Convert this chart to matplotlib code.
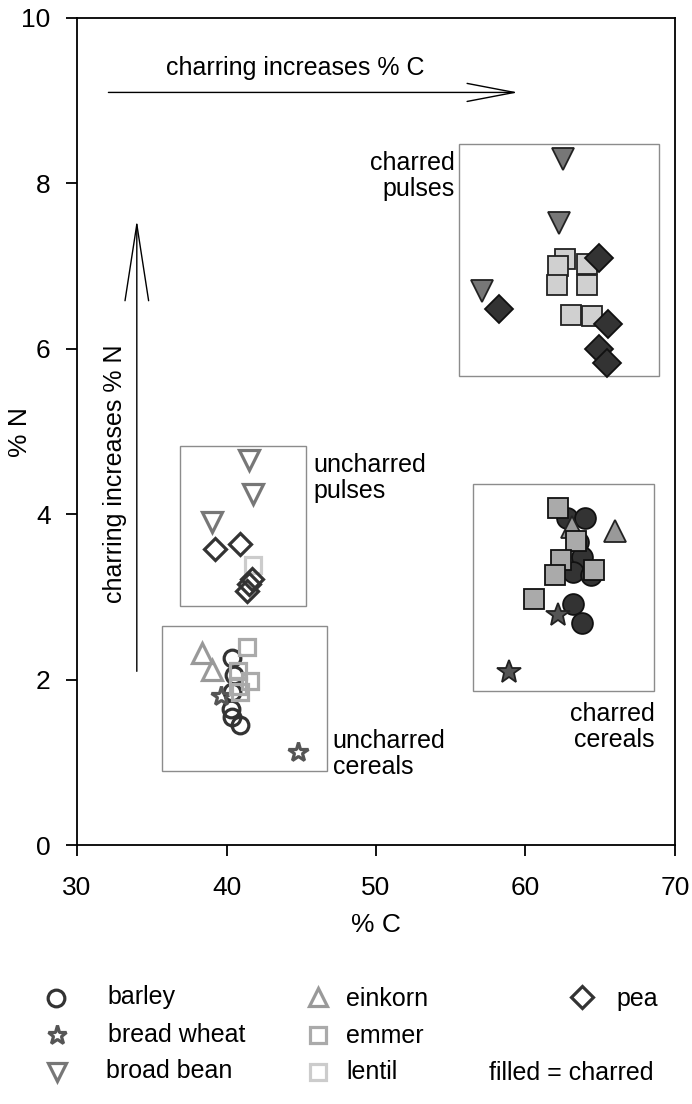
import numpy as np
import matplotlib.pyplot as plt
from matplotlib.patches import Rectangle

plt.rcParams['font.family'] = ['Liberation Sans', 'DejaVu Sans']

# uncharred (open symbols)
barley_u_x = [40.4, 40.5, 40.4, 40.3, 40.35, 40.9]
barley_u_y = [2.26, 2.05, 1.85, 1.65, 1.55, 1.45]
wheat_u_x = [39.6, 44.8]
wheat_u_y = [1.80, 1.13]
bean_u_x = [41.5, 41.8, 39.0]
bean_u_y = [4.65, 4.25, 3.90]
einkorn_u_x = [38.35, 39.0]
einkorn_u_y = [2.32, 2.12]
emmer_u_x = [41.35, 40.8, 41.6, 40.8, 40.9]
emmer_u_y = [2.40, 2.10, 1.98, 1.92, 1.85]
lentil_u_x = [41.8]
lentil_u_y = [3.38]
pea_u_x = [39.25, 40.9, 41.7, 41.5, 41.35]
pea_u_y = [3.58, 3.64, 3.22, 3.15, 3.07]

# charred (filled symbols)
barley_c_x = [62.75, 64.0, 63.5, 63.75, 63.2, 64.4, 63.2, 63.75]
barley_c_y = [3.96, 3.95, 3.66, 3.48, 3.30, 3.26, 2.92, 2.69]
wheat_c_x = [62.2, 58.9]
wheat_c_y = [2.78, 2.09]
bean_c_x = [62.5, 62.25, 57.1]
bean_c_y = [8.30, 7.52, 6.70]
einkorn_c_x = [63.1, 66.0]
einkorn_c_y = [3.84, 3.80]
emmer_c_x = [62.2, 63.4, 62.4, 62.0, 64.6, 60.6]
emmer_c_y = [4.08, 3.68, 3.45, 3.27, 3.32, 2.97]
lentil_c_x = [62.65, 62.2, 64.1, 62.1, 64.1, 63.05, 64.45]
lentil_c_y = [7.08, 7.00, 7.02, 6.77, 6.77, 6.41, 6.40]
pea_c_x = [58.2, 64.9, 65.5, 64.95, 65.45]
pea_c_y = [6.48, 7.10, 6.30, 6.00, 5.83]

# group boxes: x0, y0, x1, y1
boxes = [(36.9, 2.89, 45.3, 4.83), (35.7, 0.89, 46.7, 2.65),
         (56.5, 1.86, 68.6, 4.37), (55.55, 5.67, 68.9, 8.48)]

fig = plt.figure(figsize=(6.92, 11.04), dpi=100)
ax = fig.add_axes([0.1113, 0.2346, 0.8641, 0.7491])

for x0, y0, x1, y1 in boxes:
    ax.add_patch(Rectangle((x0, y0), x1 - x0, y1 - y0, fill=False, ec='#8c8c8c', lw=1.0, zorder=1))

lw = 2.3
ax.plot(barley_u_x, barley_u_y, 'o', ms=12, mfc='none', mec='#333333', mew=lw, zorder=3)
ax.plot(wheat_u_x, wheat_u_y, '*', ms=15, mfc='none', mec='#555555', mew=lw, zorder=3)
ax.plot(bean_u_x, bean_u_y, 'v', ms=14, mfc='none', mec='#777777', mew=lw, zorder=3)
ax.plot(einkorn_u_x, einkorn_u_y, '^', ms=14, mfc='none', mec='#999999', mew=lw, zorder=3)
ax.plot(emmer_u_x, emmer_u_y, 's', ms=12, mfc='none', mec='#aaaaaa', mew=lw, zorder=4)
ax.plot(lentil_u_x, lentil_u_y, 's', ms=12, mfc='none', mec='#cccccc', mew=lw, zorder=3)
ax.plot(pea_u_x, pea_u_y, 'D', ms=11, mfc='none', mec='#333333', mew=lw, zorder=4)

ew = 1.3
ax.plot(barley_c_x, barley_c_y, 'o', ms=15, mfc='#333333', mec='#111111', mew=ew, zorder=3)
ax.plot(wheat_c_x, wheat_c_y, '*', ms=18, mfc='#555555', mec='#222222', mew=ew, zorder=3)
ax.plot(bean_c_x, bean_c_y, 'v', ms=16, mfc='#777777', mec='#222222', mew=ew, zorder=3)
ax.plot(einkorn_c_x, einkorn_c_y, '^', ms=16, mfc='#999999', mec='#222222', mew=ew, zorder=3)
ax.plot(emmer_c_x, emmer_c_y, 's', ms=15, mfc='#aaaaaa', mec='#111111', mew=ew, zorder=4)
ax.plot(lentil_c_x, lentil_c_y, 's', ms=15, mfc='#d0d0d0', mec='#222222', mew=ew, zorder=3)
ax.plot(pea_c_x, pea_c_y, 'D', ms=14, mfc='#333333', mec='#111111', mew=ew, zorder=4)

# arrows
ax.annotate('', xy=(59.5, 9.1), xytext=(32.1, 9.1),
            arrowprops=dict(arrowstyle='->,head_length=3.4,head_width=0.65', lw=1.0,
                            color='black', shrinkA=0, shrinkB=0))
ax.annotate('', xy=(34.0, 7.56), xytext=(34.0, 2.1),
            arrowprops=dict(arrowstyle='->,head_length=5.5,head_width=0.85', lw=1.0,
                            color='black', shrinkA=0, shrinkB=0))
fs = 18
ax.text(44.6, 9.40, 'charring increases % C', ha='center', va='center', fontsize=fs)
ax.text(32.55, 4.49, 'charring increases % N', ha='center', va='center', rotation=90, fontsize=fs)

ax.text(55.28, 8.09, 'charred\npulses', ha='right', va='center', fontsize=fs, linespacing=1.1)
ax.text(45.8, 4.44, 'uncharred\npulses', ha='left', va='center', fontsize=fs, linespacing=1.1)
ax.text(47.1, 1.10, 'uncharred\ncereals', ha='left', va='center', fontsize=fs, linespacing=1.1)
ax.text(68.66, 1.43, 'charred\ncereals', ha='right', va='center', fontsize=fs, linespacing=1.1)

ax.set_xlim(30, 70)
ax.set_ylim(0, 10)
ax.set_xticks(range(30, 71, 10))
ax.set_yticks(range(0, 11, 2))
ax.tick_params(direction='out', length=8, width=1.3, labelsize=19)
ax.tick_params(axis='x', pad=14)
ax.tick_params(axis='y', pad=11)
for sp in ax.spines.values():
    sp.set_linewidth(1.3)
ax.set_xlabel('% C', fontsize=19, labelpad=10)
fig.text(20 / 692, 1 - 432 / 1104, '% N', rotation=90, ha='center', va='center', fontsize=19)

# legend in pixel coordinates
lg = fig.add_axes([0, 0, 1, 1], facecolor='none')
lg.set_xlim(0, 692)
lg.set_ylim(1104, 0)
lg.axis('off')
lg.plot([56], [998], 'o', ms=12, mfc='none', mec='#333333', mew=lw)
lg.plot([57], [1035], '*', ms=14, mfc='none', mec='#555555', mew=lw)
lg.plot([57], [1072], 'v', ms=13, mfc='none', mec='#777777', mew=lw)
lg.plot([318], [997], '^', ms=13, mfc='none', mec='#999999', mew=lw)
lg.plot([318], [1035], 's', ms=12, mfc='none', mec='#aaaaaa', mew=lw)
lg.plot([318], [1072], 's', ms=12, mfc='none', mec='#cccccc', mew=lw)
lg.plot([582], [997], 'D', ms=11, mfc='none', mec='#333333', mew=lw)
for tx, ty, s in [(107, 997, 'barley'), (108, 1035, 'bread wheat'), (106, 1071, 'broad bean'),
                  (346, 999, 'einkorn'), (346, 1036, 'emmer'), (346, 1072, 'lentil'),
                  (616, 999, 'pea'), (489, 1073, 'filled = charred')]:
    lg.text(tx, ty, s, ha='left', va='center', fontsize=fs)

fig.savefig('out.png', dpi=100)
